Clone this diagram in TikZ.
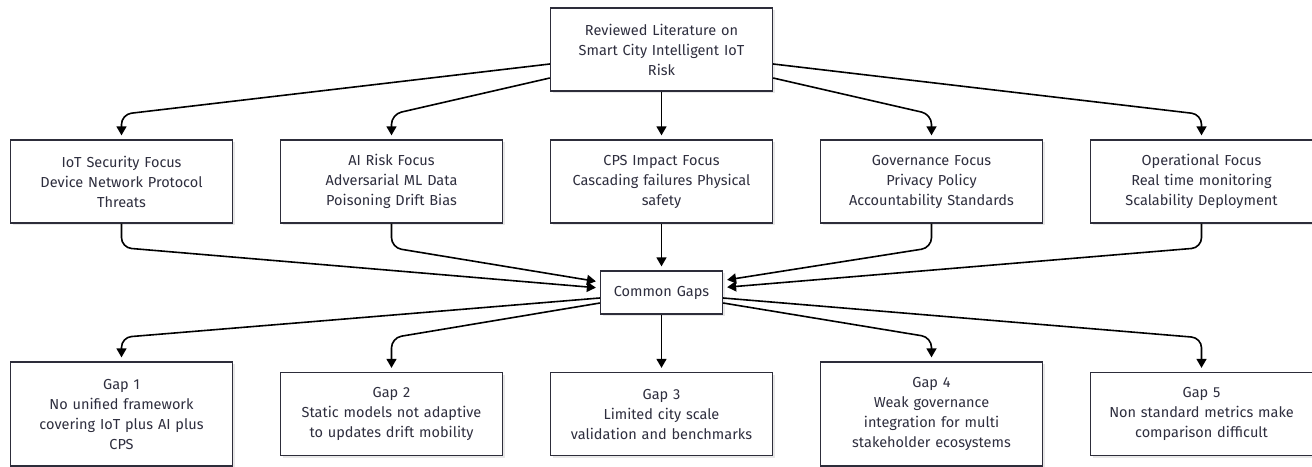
\documentclass[tikz,border=0pt]{standalone}
\usepackage{fontspec}
\setmainfont{Fira Sans}
\usetikzlibrary{arrows.meta,positioning,shadows}
\definecolor{ink}{HTML}{2E2E3E}
\definecolor{frame}{HTML}{2D2D3A}
\definecolor{shade}{HTML}{E8E8E8}
\tikzset{
  >={Triangle[length=9pt,width=10pt]},
  flow/.style={->,line width=1.6pt,draw=black,rounded corners=10pt,shorten >=4pt},
  box/.style={draw=frame,line width=1.3pt,fill=white,text=ink,align=center,
    text width=206pt,inner xsep=8pt,minimum height=83pt,
    font=\fontsize{14.5}{20}\selectfont,
    drop shadow={shadow xshift=2pt,shadow yshift=-2pt,fill=shade,opacity=1}},
  tallbox/.style={box,minimum height=104pt}
}
\begin{document}
\begin{tikzpicture}[x=1pt,y=-1pt,node distance=46.7pt]
  \useasboundingbox (0,0) rectangle (1312,466);
  % source and focus areas
  \node[box] (lit) at (661.5,49.5) {Reviewed Literature on\\Smart City Intelligent IoT\\Risk};
  \node[box] (cps) at (661.5,181.5) {CPS Impact Focus\\Cascading failures Physical\\safety};
  \node[box,left=of cps] (ai) {AI Risk Focus\\Adversarial ML Data\\Poisoning Drift Bias};
  \node[box,left=of ai] (iot) {IoT Security Focus\\Device Network Protocol\\Threats};
  \node[box,right=of cps] (gov) {Governance Focus\\Privacy Policy\\Accountability Standards};
  \node[box,right=of gov] (ops) {Operational Focus\\Real time monitoring\\Scalability Deployment};
  \node[box,text width=106pt,minimum height=43pt] (gaps) at (661.5,292.5) {Common Gaps};
  % gaps
  \node[box] (gap3) at (661.5,414) {Gap 3\\Limited city scale\\validation and benchmarks};
  \node[box,left=of gap3] (gap2) {Gap 2\\Static models not adaptive\\to updates drift mobility};
  \node[tallbox,left=of gap2] (gap1) {Gap 1\\No unified framework\\covering IoT plus AI plus\\CPS};
  \node[tallbox,right=of gap3] (gap4) {Gap 4\\Weak governance\\integration for multi\\stakeholder ecosystems};
  \node[box,right=of gap4] (gap5) {Gap 5\\Non standard metrics make\\comparison difficult};

  \draw[flow] ([yshift=-14.5pt]lit.west) -- ([yshift=25pt]iot.north) -- (iot.north);
  \draw[flow] ([yshift=-28.5pt]lit.west) -- ([yshift=25pt]ai.north) -- (ai.north);
  \draw[flow] (lit) -- (cps);
  \draw[flow] ([yshift=-28.5pt]lit.east) -- ([yshift=25pt]gov.north) -- (gov.north);
  \draw[flow] ([yshift=-14.5pt]lit.east) -- ([yshift=25pt]ops.north) -- (ops.north);

  \draw[flow] (iot.south) -- ([yshift=-24pt]iot.south) -- ([yshift=4.5pt]gaps.west);
  \draw[flow] (ai.south) -- ([yshift=-24pt]ai.south) -- ([yshift=10.5pt]gaps.west);
  \draw[flow] (cps) -- (gaps);
  \draw[flow] (gov.south) -- ([yshift=-24pt]gov.south) -- ([yshift=12pt]gaps.east);
  \draw[flow] (ops.south) -- ([yshift=-24pt]ops.south) -- ([yshift=5pt]gaps.east);

  \draw[flow] ([yshift=-5.5pt]gaps.west) -- ([yshift=24pt]gap1.north) -- (gap1.north);
  \draw[flow] ([yshift=-10.5pt]gaps.west) -- ([yshift=34pt]gap2.north) -- (gap2.north);
  \draw[flow] (gaps) -- (gap3);
  \draw[flow] ([yshift=-10.5pt]gaps.east) -- ([yshift=24pt]gap4.north) -- (gap4.north);
  \draw[flow] ([yshift=-5.5pt]gaps.east) -- ([yshift=34pt]gap5.north) -- (gap5.north);
\end{tikzpicture}
\end{document}
